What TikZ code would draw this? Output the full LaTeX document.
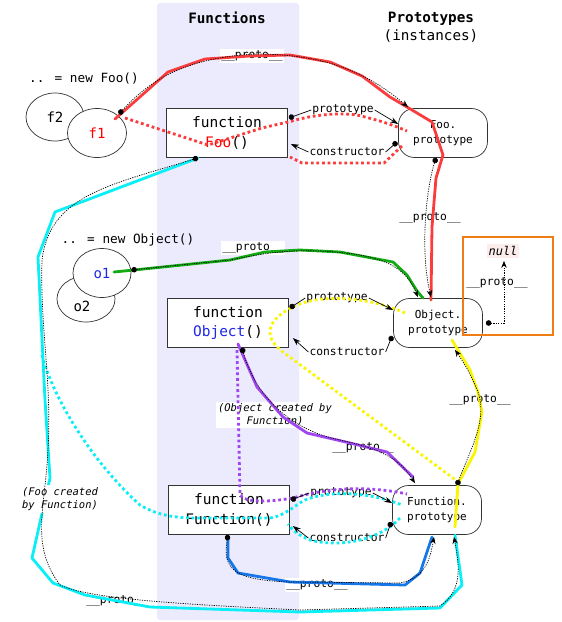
\documentclass[tikz,border=0pt]{standalone}
\usepackage{fontspec}
\setmainfont{DejaVu Sans Mono}
\usetikzlibrary{arrows.meta,shapes.geometric,calc}
\definecolor{bandc}{RGB}{235,235,253}
\definecolor{redc}{RGB}{250,60,60}
\definecolor{greenc}{RGB}{20,170,20}
\definecolor{cyanc}{RGB}{10,238,245}
\definecolor{yellowc}{RGB}{250,245,0}
\definecolor{purplec}{RGB}{160,70,240}
\definecolor{bluec}{RGB}{20,120,235}
\definecolor{objblue}{RGB}{30,40,230}
\definecolor{orangec}{RGB}{238,125,20}
\definecolor{nullbg}{RGB}{252,236,236}
\begin{document}
\begin{tikzpicture}[x=1pt,y=-1pt,
 fbox/.style={draw=black!80, fill=white, line width=0.7pt, minimum width=121pt, minimum height=49pt, inner sep=0pt, align=center, font=\fontsize{14.5}{19.5}\selectfont},
 pbox/.style={draw=black!80, fill=white, line width=0.7pt, rounded corners=16pt, minimum width=89pt, minimum height=49pt, inner sep=0pt, align=center, font=\fontsize{11}{15}\selectfont},
 inst/.style={ellipse, draw=black!80, fill=white, line width=0.7pt, minimum width=58pt, minimum height=48pt, inner sep=0pt, font=\fontsize{14}{16}\selectfont},
 lbl/.style={inner sep=1pt, font=\fontsize{11.3}{13}\selectfont},
 plbl/.style={lbl, fill=white, inner sep=1.5pt},
 note/.style={fill=white, inner sep=2pt, align=center, font=\fontsize{10.5}{13}\selectfont\itshape},
 ptr/.style={line width=0.7pt, dash pattern=on 1.2pt off 1.2pt, {Circle[length=5.5pt]}-{Stealth[length=7pt,width=5.5pt]}},
 dotline/.style={line width=0.7pt, {Circle[length=5.5pt]}-},
 arrline/.style={line width=0.7pt, -{Stealth[length=8pt,width=5.5pt]}},
 hl/.style={line width=2.8pt, line join=round, line cap=round},
 hldot/.style={line width=2.8pt, dash pattern=on 2.8pt off 2.8pt},
]
\useasboundingbox (0,0) rectangle (562,622);
% band
\fill[bandc, rounded corners=3pt] (157,3) rectangle (299,620);
% titles
\node[font=\fontsize{14.3}{18}\selectfont\bfseries] (tfun) at (227,18) {Functions};
\node[font=\fontsize{14.3}{18}\selectfont, align=center] (tproto) at (431,27) {\textbf{Prototypes}\\(instances)};
\node[font=\fontsize{12.7}{15}\selectfont] (newfoo) at (84,79) {.. = new Foo()};
\node[font=\fontsize{12.7}{15}\selectfont] (newobj) at (128,240) {.. = new Object()};
% instances
\node[inst] (f2) at (55,117) {f2};
\node[inst, minimum width=59pt, minimum height=49pt, text=red] (f1) at (97,133) {f1};
\node[inst, minimum height=46pt] (o2) at (86,299) {};
\node[font=\fontsize{14}{16}\selectfont] (o2t) at (82,306) {o2};
\node[inst, minimum height=49pt, text=objblue] (o1) at (102,273) {o1};
% function boxes
\node[fbox] (fooF) at (227,133) {function\\\textcolor{red}{Foo}()};
\node[fbox] (objF) at (228,323) {function\\\textcolor{objblue}{Object}()};
\node[fbox] (funF) at (229,510) {function\\Function()};
% prototypes
\node[pbox] (fooP) at (443,133) {Foo.\\prototype};
\node[pbox] (objP) at (438,323) {Object.\\prototype};
\node[pbox] (funP) at (437,510) {Function.\\prototype};
% null
\draw[draw=orangec, line width=1.3pt] (463,237) rectangle (553,335);
\node[fill=nullbg, inner sep=2pt, font=\fontsize{12}{14}\selectfont\itshape] (null) at (503,251) {null};
% proto labels
\node[plbl] (p1) at (252,56) {\_\_proto\_\_};
\node[plbl] (p2) at (430,218) {\_\_proto\_\_};
\node[plbl] (p3) at (253,248) {\_\_proto\_\_};
\node[plbl] (p4) at (480,400) {\_\_proto\_\_};
\node[plbl] (p5) at (363,448) {\_\_proto\_\_};
\node[plbl] (p6) at (317,585) {\_\_proto\_\_};
\node[plbl] (p7) at (117,601) {\_\_proto\_\_};
\node[plbl] (p8) at (497,283) {\_\_proto\_\_};
% link labels
\node[lbl] (lpFoo) at (343,110) {prototype};
\node[lbl] (lcFoo) at (347,152) {constructor};
\node[lbl] (lpObj) at (337,298) {prototype};
\node[lbl] (lcObj) at (347,352) {constructor};
\node[lbl] (lpFun) at (341,493) {prototype};
\node[lbl] (lcFun) at (347,538) {constructor};
\node[note] (n1) at (275,415) {(Object created by\\Function)};
% ---------- highlights
\draw[hl, redc] (115,119) -- (168,72) -- (205,59) -- (250,56) -- (290,55) -- (330,62) -- (362,76) -- (390,97) -- (412,110) -- (432,122) -- (443,155) -- (436,178) -- (432,227) -- (431,300);
\draw[hldot, redc] (125,118) -- (208,145) -- (262,128) -- (292,121) .. controls (320,113) and (350,112) .. (365,117) .. controls (385,122) and (395,126) .. (407,131);
\draw[hldot, redc] (402,146) -- (384,163) -- (302,163) -- (290,157);
\draw[hl, greenc] (114,272) -- (134,270) -- (230,260) -- (265,252) -- (300,250) -- (340,252) -- (393,262) -- (407,275) -- (417,291) -- (423,298);
\draw[hldot, yellowc] (405,313) .. controls (370,297) and (320,293) .. (293,307) .. controls (270,318) and (260,335) .. (283,352) -- (457,481);
\draw[hl, yellowc] (455,527) -- (458,484) -- (475,452) -- (482,412) -- (478,392) -- (470,370) -- (452,340);
\draw[hl, purplec] (238,344) -- (257,387) -- (283,417) -- (307,433) -- (350,443) -- (387,452) -- (413,477);
\draw[hldot, purplec] (237,350) -- (240,495) .. controls (245,503) and (270,502) .. (293,498) .. controls (320,490) and (360,484) .. (407,494);
\draw[hl, bluec] (228,538) -- (228,558) -- (238,573) -- (290,582) -- (405,585) -- (420,573) -- (432,537);
\draw[hl, cyanc] (198,158) -- (55,212) -- (38,257) -- (45,400) -- (50,478) -- (32,558) -- (53,583) -- (85,595) -- (150,607) -- (300,612) -- (440,608) -- (462,585) -- (455,535);
\draw[hldot, cyanc] (42,355) .. controls (52,395) and (90,460) .. (140,505) .. controls (160,517) and (180,518) .. (200,518) -- (270,518) .. controls (285,516) and (295,505) .. (305,500) .. controls (330,490) and (370,492) .. (402,505);
\draw[hldot, cyanc] (400,518) .. controls (380,540) and (340,548) .. (310,540) .. controls (298,535) and (292,530) .. (288,524);
\node[note] (n2) at (60,499) {(Foo created\\by Function)};
% ---------- pointers
\draw[ptr] ($(f1)+(22,-19)$) .. controls (150,80) and (185,58) .. (255,54) .. controls (330,54) and (370,75) .. ($(fooP)+(-35,-26)$);
\draw[ptr] ($(fooP.south)+(-7,0)$) .. controls (426,190) and (420,250) .. ($(objP.north)+(-7,-1)$);
\draw[ptr] ($(o1.east)+(0,-3)$) -- (230,260) .. controls (270,252) and (290,250) .. (320,251) .. controls (380,254) and (405,265) .. ($(objP.north)+(-20,-1)$);
\draw[ptr] ($(objF.south)+(14,0)$) .. controls (255,395) and (290,430) .. (340,440) .. controls (385,450) and (400,460) .. ($(funP.north)+(-22,-2)$);
\draw[ptr] ($(funP.north)+(20,0)$) .. controls (470,450) and (488,420) .. (478,392) .. controls (470,372) and (462,360) .. ($(objP.south)+(17,2)$);
\draw[ptr] ($(funF.south)+(-1,0)$) .. controls (222,570) and (235,580) .. (290,582) -- (400,583) .. controls (425,578) and (430,560) .. ($(funP.south)+(-3,2)$);
\draw[ptr] ($(fooF.south)+(-29,0)$) .. controls (110,185) and (50,195) .. (42,260) .. controls (40,330) and (52,380) .. (48,450) .. controls (45,510) and (30,545) .. (60,585) .. controls (90,600) and (200,605) .. (300,610) -- (440,606) .. controls (465,590) and (458,560) .. ($(funP.south)+(17,2)$);
\draw[ptr] ($(objP.east)+(3,0)$) -- (504,323) -- ($(null.south)+(1,3)$);
% labelled links
\draw[dotline] ($(fooF.east)+(1,-15)$) -- (lpFoo.west);
\draw[arrline] (lpFoo.east) -- ($(fooP.west)+(0,-9)$);
\draw[dotline] ($(fooP.west)+(-1,9)$) -- (lcFoo.east);
\draw[arrline] (lcFoo.west) -- ($(fooF.east)+(3,11)$);
\draw[dotline] ($(objF.east)+(1,-15)$) -- (lpObj.west);
\draw[arrline] (lpObj.east) -- ($(objP.west)+(0,-13)$);
\draw[dotline] ($(objP.west)+(-1,13)$) -- (lcObj.east);
\draw[arrline] (lcObj.west) -- ($(objF.east)+(4,15)$);
\draw[dotline] ($(funF.east)+(1,-10)$) -- (lpFun.west);
\draw[arrline] (lpFun.east) -- ($(funP.west)+(0,-7)$);
\draw[dotline] ($(funP.west)+(-1,12)$) -- (lcFun.east);
\draw[arrline] (lcFun.west) -- ($(funF.east)+(3,16)$);
\end{tikzpicture}
\end{document}
